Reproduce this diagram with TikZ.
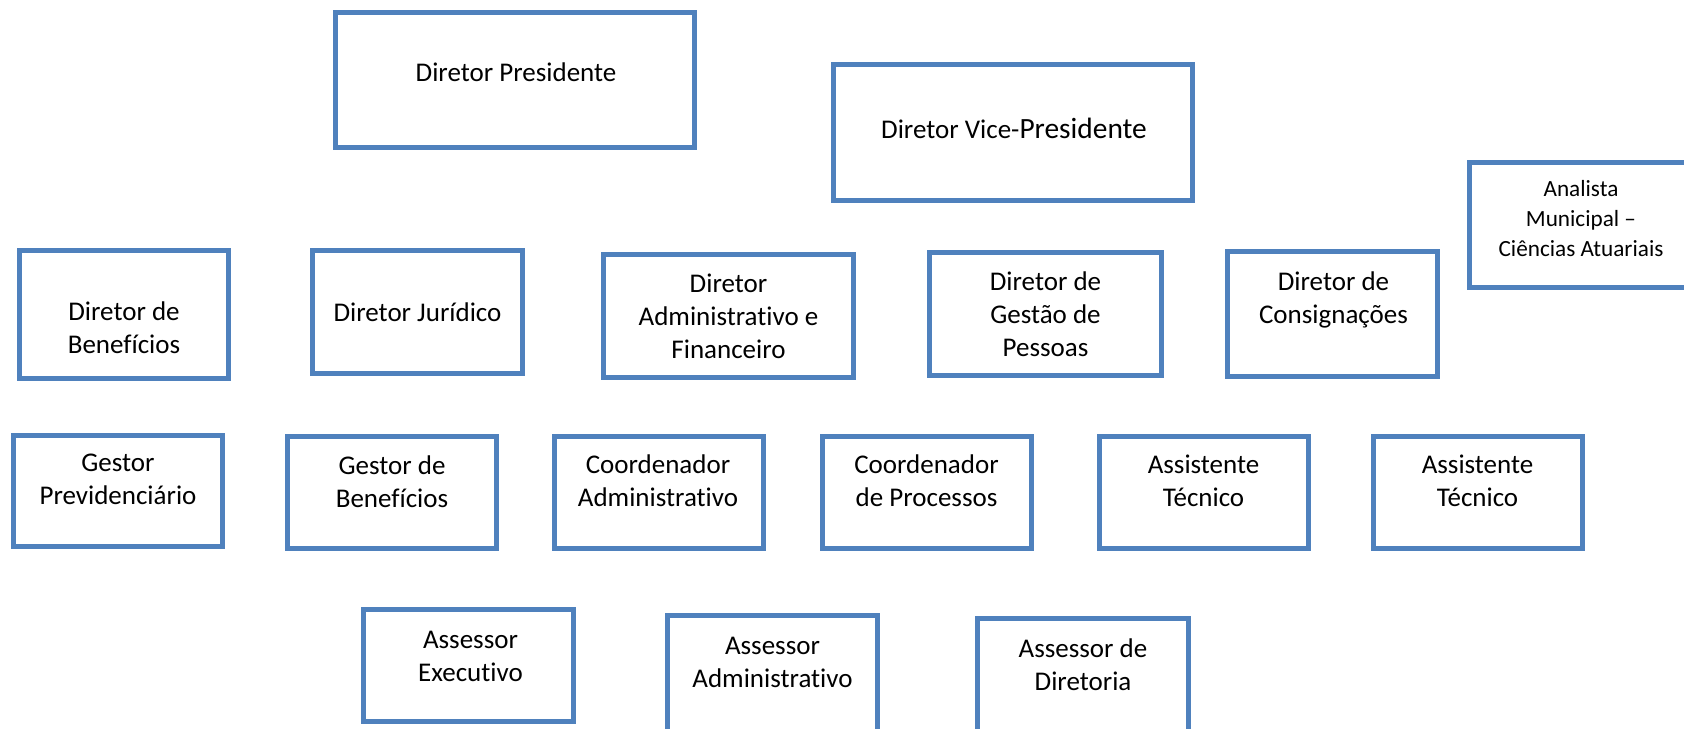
\documentclass[tikz,border=0pt]{standalone}
\usepackage{fontspec}
\setmainfont{Carlito}[RawFeature={-liga}]
\usepackage{xcolor}
\usepackage{tikz}
\usetikzlibrary{positioning,calc}

\definecolor{boxblue}{RGB}{79,129,189}
\newcommand\orgfont{\fontsize{13.5}{16.5}\selectfont}
\newcommand\smallorgfont{\fontsize{11.6}{15}\selectfont}

\begin{document}
\begin{tikzpicture}[x=0.5pt, y=-0.5pt,
    box/.style={draw=boxblue, line width=2.5pt, inner sep=0pt, minimum width=104.5pt, minimum height=56pt},
    txt/.style={align=center, inner sep=0pt, font=\orgfont}]

    \useasboundingbox (0,0) rectangle (1684,728);
    \clip (0,0) rectangle (1684,728);

    % top
    \node[box, minimum width=179.5pt, minimum height=67.5pt] (dp) at (515,80) {};
    \node[box, minimum width=179.5pt, minimum height=68pt] (dvp) at (1013,132.5) {};
    \node[box, minimum width=111.5pt, minimum height=62.5pt] (an) at (1581,225) {};

    \node[txt] (dp-t) at ($(dp) + (1,-7.5)$) {Diretor Presidente};
    \node[txt] (dvp-t) at ($(dvp) + (1,-4.5)$) {{\fontsize{13.5}{16.5}\selectfont Diretor Vice-}{\fontsize{14.7}{17}\selectfont Presidente}};
    \node[txt, font=\smallorgfont] (an-t) at ($(an) + (0,-6)$) {Analista\\Municipal –\\Ciências Atuariais};

    % diretores
    \node[box, minimum height=64pt] (dben) at (124,314.5) {};
    \node[box, minimum width=105pt, minimum height=61.5pt] (djur) at (417.5,312) {};
    \node[box, minimum width=125pt, minimum height=61.5pt] (dadm) at (728.5,316) {};
    \node[box, minimum width=116pt, minimum height=61.5pt] (dgp) at (1045.5,314) {};
    \node[box, minimum width=105pt, minimum height=62.5pt] (dcon) at (1332.5,314) {};

    \node[txt] (dben-t) at ($(dben) + (0,13.5)$) {Diretor de\\Benefícios};
    \node[txt] (djur-t) at (djur) {Diretor Jurídico};
    \node[txt] (dadm-t) at (dadm) {Diretor\\Administrativo e\\Financeiro};
    \node[txt] (dgp-t) at (dgp) {Diretor de\\Gestão de\\Pessoas};
    \node[txt] (dcon-t) at ($(dcon) + (1,-14)$) {Diretor de\\Consignações};

    % gestores, coordenadores, assistentes
    \node[box, minimum height=55.5pt] (gprev) at (118,491) {};
    \node[box] (gben) at (392,492.5) {};
    \node[box] (cadm) at (659,492.5) {};
    \node[box] (cproc) at (926.5,492.5) {};
    \node[box] (at1) at (1203.5,492.5) {};
    \node[box] (at2) at (1477.5,492.5) {};

    \node[txt] (gprev-t) at ($(gprev) + (0,-12)$) {Gestor\\Previdenciário};
    \node[txt] (gben-t) at ($(gben) + (0,-11)$) {Gestor de\\Benefícios};
    \node[txt] (cadm-t) at ($(cadm) + (-1,-11.5)$) {Coordenador\\Administrativo};
    \node[txt] (cproc-t) at ($(cproc) + (0,-12)$) {Coordenador\\de Processos};
    \node[txt] (at1-t) at ($(at1) + (0,-12)$) {Assistente\\Técnico};
    \node[txt] (at2-t) at ($(at2) + (0,-12)$) {Assistente\\Técnico};

    % assessores
    \node[box, minimum width=105pt] (aexe) at (468.5,665.5) {};
    \node[box, minimum width=105pt, minimum height=58.5pt] (aadm) at (772.5,674) {};
    \node[box, minimum width=105.5pt, minimum height=58.5pt] (adir) at (1083,677) {};

    \node[txt] (aexe-t) at ($(aexe) + (2,-9)$) {Assessor\\Executivo};
    \node[txt] (aadm-t) at ($(aadm) + (0,-12)$) {Assessor\\Administrativo};
    \node[txt] (adir-t) at ($(adir) + (0,-12)$) {Assessor de\\Diretoria};

\end{tikzpicture}
\end{document}
